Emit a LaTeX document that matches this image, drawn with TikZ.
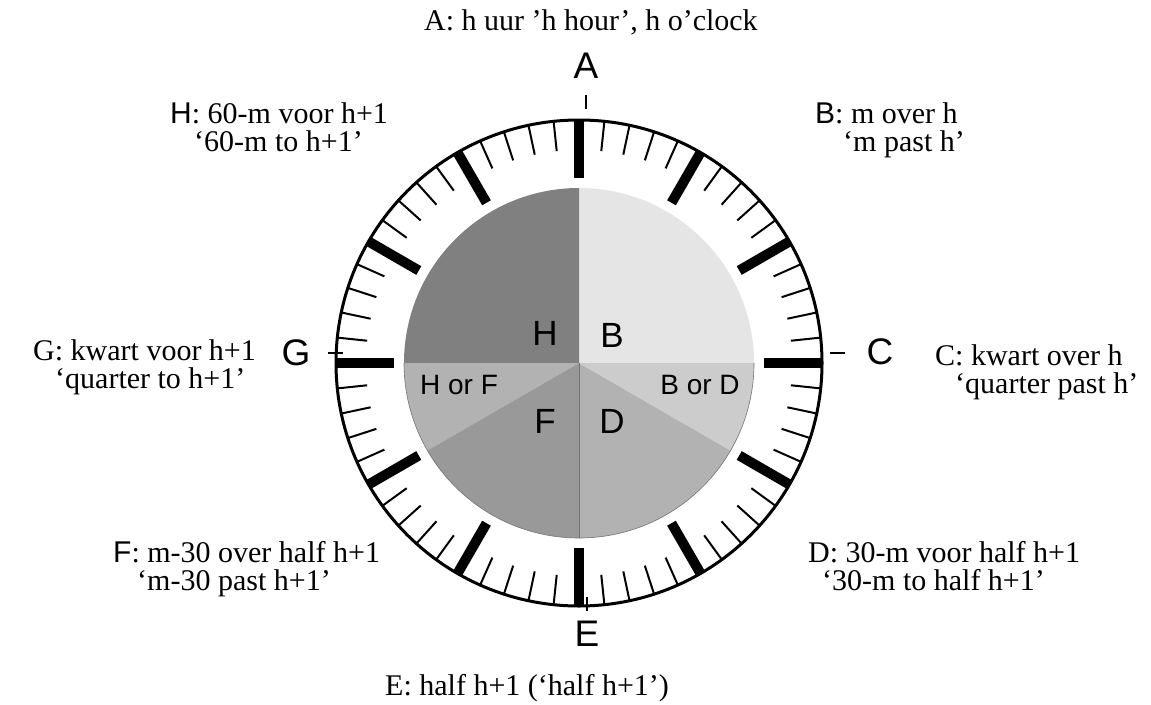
\documentclass[tikz,border=0pt]{standalone}
\usepackage{fontspec}
\setmainfont{Liberation Serif}
\setsansfont{Liberation Sans}
\definecolor{cB}{gray}{0.9}
\definecolor{cH}{gray}{0.5}
\definecolor{cBD}{gray}{0.8}
\definecolor{cD}{gray}{0.7}
\definecolor{cF}{gray}{0.6}
\definecolor{cHF}{gray}{0.7}
\definecolor{edge}{gray}{0.45}
\begin{document}
\begin{tikzpicture}[x=1pt,y=-1pt,
  lbl/.style={font=\fontsize{30}{28}\selectfont, inner sep=0, anchor=base west, align=left},
  big/.style={font=\sffamily\fontsize{37}{40}\selectfont, inner sep=0},
  sec/.style={font=\sffamily\fontsize{35}{38}\selectfont, inner sep=0},
  small/.style={font=\sffamily\fontsize{28}{30}\selectfont, inner sep=0},
  minortick/.style={line width=2pt},
  majortick/.style={line width=10pt},
  dashmark/.style={line width=2.5pt}]
\useasboundingbox (0,0) rectangle (1151,704);
\fill[white] (0,0) rectangle (1151,704);
\begin{scope}[shift={(579,363)}, y=1pt]
  \fill[cB]  (0,0) -- (0:175) arc (0:90:175) -- cycle;
  \fill[cH]  (0,0) -- (90:175) arc (90:180:175) -- cycle;
  \fill[cHF] (0,0) -- (180:175) arc (180:210:175) -- cycle;
  \fill[cF]  (0,0) -- (210:175) arc (210:270:175) -- cycle;
  \fill[cD]  (0,0) -- (270:175) arc (270:330:175) -- cycle;
  \fill[cBD] (0,0) -- (330:175) arc (330:360:175) -- cycle;
  \draw[edge, line width=0.6pt] (180:175) arc (180:360:175);
  \draw[edge, line width=0.4pt] (0,0) -- (270:175);
  \draw[line width=3pt] (0,0) circle (243);
  \foreach \i in {0,...,59} {
    \pgfmathsetmacro\ang{90-6*\i}
    \pgfmathtruncatemacro\m{mod(\i,5)}
    \ifnum\m=0
      \draw[majortick] (\ang:243) -- (\ang:185);
    \else
      \draw[minortick] (\ang:243) -- (\ang:213);
    \fi
  }
\end{scope}
% offset dashes
\coordinate (dA1) at (586,95);  \coordinate (dA2) at (586,109);
\coordinate (dE1) at (587,597); \coordinate (dE2) at (587,611);
\coordinate (dG1) at (328,353); \coordinate (dG2) at (343,353);
\coordinate (dC1) at (830,353); \coordinate (dC2) at (845,353);
\draw[dashmark] (dA1) -- (dA2);
\draw[dashmark] (dE1) -- (dE2);
\draw[dashmark] (dG1) -- (dG2);
\draw[dashmark] (dC1) -- (dC2);
% big letters
\node[big] (A) at (586,66) {A};
\node[big] (C) at (880,352) {C};
\node[big] (E) at (587,634) {E};
\node[big] (G) at (296,353) {G};
% sector letters
\node[sec] (sH) at (545,333) {H};
\node[sec] (sB) at (612,335) {B};
\node[sec] (sF) at (545,421) {F};
\node[sec] (sD) at (612,421) {D};
\node[small] (sHF) at (459,385) {H or F};
\node[small] (sBD) at (700,385) {B or D};
% outer labels (anchor = baseline of second line)
\node[lbl] (tA) at (424,30) {A: h uur ’h hour’, h o’clock};
\node[lbl] (tH) at (170,151) {\textsf{H}: 60-m voor h+1\\\hspace*{24pt}‘60-m to h+1’};
\node[lbl] (tB) at (815,151) {\textsf{B}: m over h\\\hspace*{28pt}‘m past h’};
\node[lbl] (tG) at (33,388) {G: kwart voor h+1\\\hspace*{22pt}‘quarter to h+1’};
\node[lbl] (tC) at (935,393) {C: kwart over h\\\hspace*{20pt}‘quarter past h’};
\node[lbl] (tF) at (113,590) {\textsf{F}: m-30 over half h+1\\\hspace*{24pt}‘m-30 past h+1’};
\node[lbl] (tD) at (808,590) {D: 30-m voor half h+1\\\hspace*{14pt}‘30-m to half h+1’};
\node[lbl] (tE) at (385,695) {E: half h+1 (‘half h+1’)};
\end{tikzpicture}
\end{document}
